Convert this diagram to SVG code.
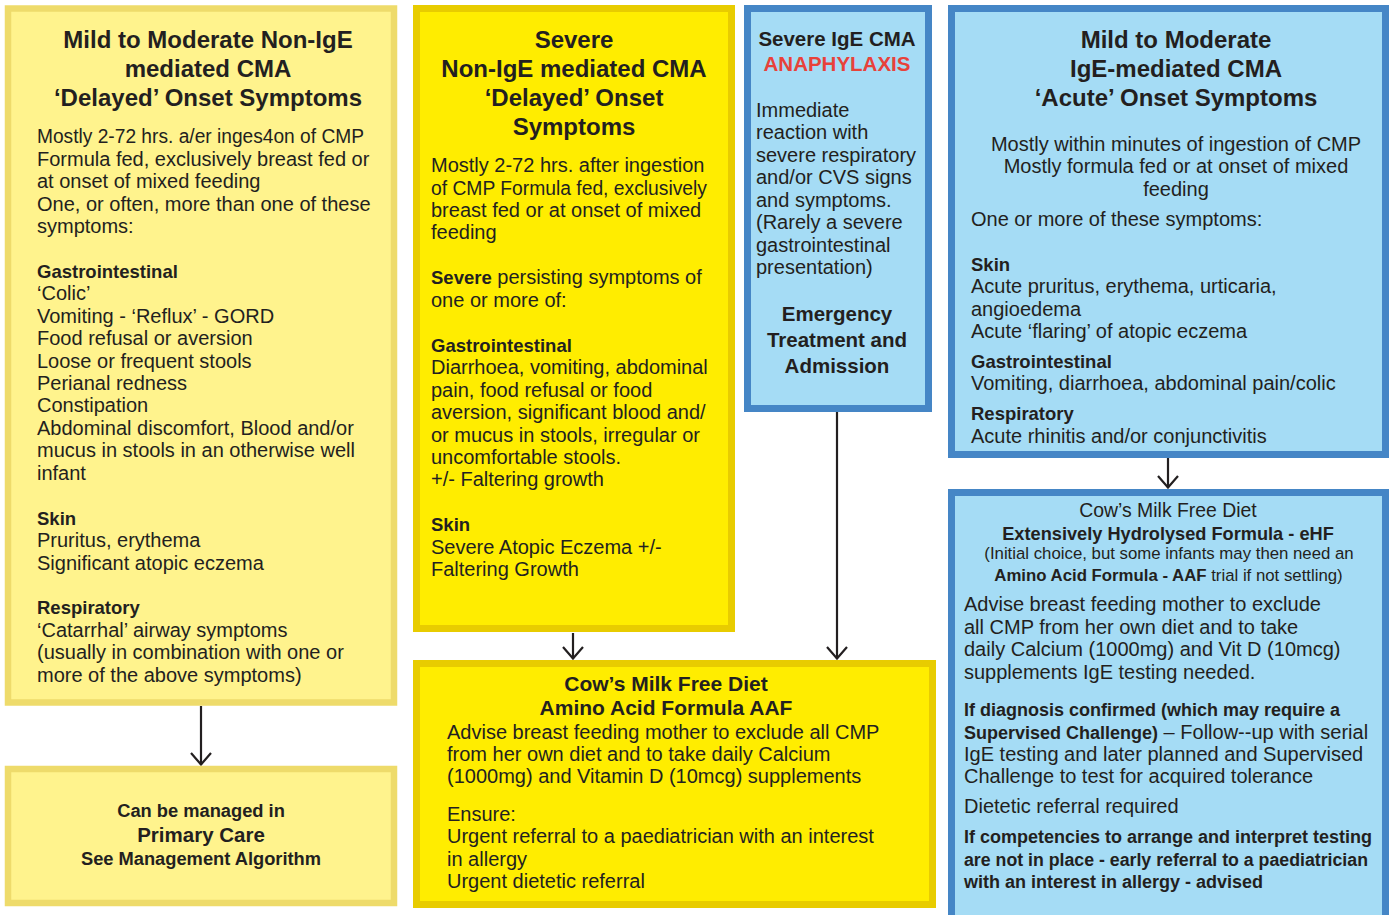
<svg xmlns="http://www.w3.org/2000/svg" width="1394" height="915" viewBox="0 0 1394 915">
<style>
text{font-family:"Liberation Sans",Arial,sans-serif;fill:#231F20}
.b{font-size:20px}
.bb{font-size:18.5px;font-weight:bold}
.b7{font-size:18px;font-weight:bold}
.h{font-size:24px;font-weight:bold;text-anchor:middle}
.h2{font-size:20.5px;font-weight:bold;text-anchor:middle}
.c{text-anchor:middle}
.s{font-size:16.8px}
.ly{fill:#FFF38D;stroke:#EEDB6B;stroke-width:6.5}
.by{fill:#FFED00;stroke:#E8CC00;stroke-width:7}
.bl{fill:#A5DCF5;stroke:#4586C6;stroke-width:7}
.con{stroke:#231F20;stroke-width:2.2;fill:none}
</style>
<defs>
<marker id="ah" viewBox="0 0 14 22" refX="13" refY="11" markerWidth="14" markerHeight="22" markerUnits="userSpaceOnUse" orient="auto">
<path d="M1,1 L12.5,11 L1,21" fill="none" stroke="#231F20" stroke-width="2.2"/>
</marker>
</defs>
<rect width="1394" height="915" fill="#FFFFFF"/>

<g id="connectors">
<line class="con" x1="201" y1="706" x2="201" y2="765" marker-end="url(#ah)"/>
<line class="con" x1="573" y1="633" x2="573" y2="659" marker-end="url(#ah)"/>
<line class="con" x1="837" y1="411" x2="837" y2="659" marker-end="url(#ah)"/>
<line class="con" x1="1168" y1="458" x2="1168" y2="488" marker-end="url(#ah)"/>
</g>

<g id="n1">
<rect class="ly" x="8" y="8.5" width="386" height="694"/>
<text class="h" x="208" y="48">Mild to Moderate Non-IgE</text>
<text class="h" x="208" y="77">mediated CMA</text>
<text class="h" x="208" y="106">‘Delayed’ Onset Symptoms</text>
<text class="b" x="37" y="143" textLength="327" lengthAdjust="spacingAndGlyphs">Mostly 2-72 hrs. a/er inges4on of CMP</text>
<text class="b" x="37" y="166">Formula fed, exclusively breast fed or</text>
<text class="b" x="37" y="188">at onset of mixed feeding</text>
<text class="b" x="37" y="211">One, or often, more than one of these</text>
<text class="b" x="37" y="233">symptoms:</text>
<text class="bb" x="37" y="278">Gastrointestinal</text>
<text class="b" x="37" y="300">‘Colic’</text>
<text class="b" x="37" y="323">Vomiting - ‘Reflux’ - GORD</text>
<text class="b" x="37" y="345">Food refusal or aversion</text>
<text class="b" x="37" y="368">Loose or frequent stools</text>
<text class="b" x="37" y="390">Perianal redness</text>
<text class="b" x="37" y="412">Constipation</text>
<text class="b" x="37" y="435">Abdominal discomfort, Blood and/or</text>
<text class="b" x="37" y="457">mucus in stools in an otherwise well</text>
<text class="b" x="37" y="480">infant</text>
<text class="bb" x="37" y="525">Skin</text>
<text class="b" x="37" y="547">Pruritus, erythema</text>
<text class="b" x="37" y="570">Significant atopic eczema</text>
<text class="bb" x="37" y="614">Respiratory</text>
<text class="b" x="37" y="637">‘Catarrhal’ airway symptoms</text>
<text class="b" x="37" y="659">(usually in combination with one or</text>
<text class="b" x="37" y="682">more of the above symptoms)</text>
</g>

<g id="n2">
<rect class="by" x="416.5" y="8.5" width="315" height="620"/>
<text class="h" x="574" y="48">Severe</text>
<text class="h" x="574" y="77">Non-IgE mediated CMA</text>
<text class="h" x="574" y="106">‘Delayed’ Onset</text>
<text class="h" x="574" y="135">Symptoms</text>
<text class="b" x="431" y="172">Mostly 2-72 hrs. after ingestion</text>
<text class="b" x="431" y="195" textLength="276" lengthAdjust="spacingAndGlyphs">of CMP Formula fed, exclusively</text>
<text class="b" x="431" y="217">breast fed or at onset of mixed</text>
<text class="b" x="431" y="239">feeding</text>
<text class="b" x="431" y="284"><tspan font-weight="bold" font-size="18.5">Severe</tspan> persisting symptoms of</text>
<text class="b" x="431" y="307">one or more of:</text>
<text class="bb" x="431" y="352">Gastrointestinal</text>
<text class="b" x="431" y="374">Diarrhoea, vomiting, abdominal</text>
<text class="b" x="431" y="397">pain, food refusal or food</text>
<text class="b" x="431" y="419">aversion, significant blood and/</text>
<text class="b" x="431" y="442">or mucus in stools, irregular or</text>
<text class="b" x="431" y="464">uncomfortable stools.</text>
<text class="b" x="431" y="486">+/- Faltering growth</text>
<text class="bb" x="431" y="531">Skin</text>
<text class="b" x="431" y="554">Severe Atopic Eczema +/-</text>
<text class="b" x="431" y="576">Faltering Growth</text>
</g>

<g id="n3">
<rect class="bl" x="747.5" y="8.5" width="181" height="400"/>
<text class="h2" x="837" y="46">Severe IgE CMA</text>
<text class="h2" x="837" y="71" style="fill:#E8423A">ANAPHYLAXIS</text>
<text class="b" x="756" y="117">Immediate</text>
<text class="b" x="756" y="139">reaction with</text>
<text class="b" x="756" y="162">severe respiratory</text>
<text class="b" x="756" y="184">and/or CVS signs</text>
<text class="b" x="756" y="207">and symptoms.</text>
<text class="b" x="756" y="229">(Rarely a severe</text>
<text class="b" x="756" y="252">gastrointestinal</text>
<text class="b" x="756" y="274">presentation)</text>
<text class="h2" x="837" y="321">Emergency</text>
<text class="h2" x="837" y="347">Treatment and</text>
<text class="h2" x="837" y="373">Admission</text>
</g>

<g id="n4">
<rect class="bl" x="951.5" y="8.5" width="434" height="446"/>
<text class="h" x="1176" y="48">Mild to Moderate</text>
<text class="h" x="1176" y="77">IgE-mediated CMA</text>
<text class="h" x="1176" y="106">‘Acute’ Onset Symptoms</text>
<text class="b c" x="1176" y="151">Mostly within minutes of ingestion of CMP</text>
<text class="b c" x="1176" y="173">Mostly formula fed or at onset of mixed</text>
<text class="b c" x="1176" y="196">feeding</text>
<text class="b" x="971" y="226">One or more of these symptoms:</text>
<text class="bb" x="971" y="271">Skin</text>
<text class="b" x="971" y="293">Acute pruritus, erythema, urticaria,</text>
<text class="b" x="971" y="316">angioedema</text>
<text class="b" x="971" y="338">Acute ‘flaring’ of atopic eczema</text>
<text class="bb" x="971" y="368">Gastrointestinal</text>
<text class="b" x="971" y="390">Vomiting, diarrhoea, abdominal pain/colic</text>
<text class="bb" x="971" y="420">Respiratory</text>
<text class="b" x="971" y="443">Acute rhinitis and/or conjunctivitis</text>
</g>

<g id="n5">
<rect class="ly" x="8" y="769" width="386" height="134"/>
<text class="c" x="201" y="817" style="font-size:18.3px;font-weight:bold">Can be managed in</text>
<text class="c" x="201" y="842" style="font-size:20.5px;font-weight:bold">Primary Care</text>
<text class="c" x="201" y="865" style="font-size:18.3px;font-weight:bold">See Management Algorithm</text>
</g>

<g id="n6">
<rect class="by" x="416.5" y="663.5" width="516" height="241"/>
<text class="c" x="666" y="691" style="font-size:21px;font-weight:bold">Cow’s Milk Free Diet</text>
<text class="c" x="666" y="715" style="font-size:21px;font-weight:bold">Amino Acid Formula AAF</text>
<text class="b" x="447" y="739">Advise breast feeding mother to exclude all CMP</text>
<text class="b" x="447" y="761">from her own diet and to take daily Calcium</text>
<text class="b" x="447" y="783">(1000mg) and Vitamin D (10mcg) supplements</text>
<text class="b" x="447" y="821">Ensure:</text>
<text class="b" x="447" y="843">Urgent referral to a paediatrician with an interest</text>
<text class="b" x="447" y="866">in allergy</text>
<text class="b" x="447" y="888">Urgent dietetic referral</text>
</g>

<g id="n7">
<rect class="bl" x="951.5" y="492.5" width="434" height="430"/>
<text class="c" x="1168" y="517" style="font-size:19.4px">Cow’s Milk Free Diet</text>
<text class="c" x="1168" y="540" style="font-size:18.2px;font-weight:bold">Extensively Hydrolysed Formula - eHF</text>
<text class="c s" x="1169" y="559">(Initial choice, but some infants may then need an</text>
<text class="c s" x="1168.5" y="581"><tspan font-weight="bold">Amino Acid Formula - AAF</tspan> trial if not settling)</text>
<text class="b" x="964" y="611">Advise breast feeding mother to exclude</text>
<text class="b" x="964" y="634">all CMP from her own diet and to take</text>
<text class="b" x="964" y="656">daily Calcium (1000mg) and Vit D (10mcg)</text>
<text class="b" x="964" y="679">supplements IgE testing needed.</text>
<text class="b7" x="964" y="716">If diagnosis confirmed (which may require a</text>
<text class="b" x="964" y="739"><tspan font-weight="bold" font-size="18">Supervised Challenge)</tspan> – Follow--up with serial</text>
<text class="b" x="964" y="761">IgE testing and later planned and Supervised</text>
<text class="b" x="964" y="783">Challenge to test for acquired tolerance</text>
<text class="b" x="964" y="813">Dietetic referral required</text>
<text class="b7" x="964" y="843">If competencies to arrange and interpret testing</text>
<text class="b7" x="964" y="866" textLength="404" lengthAdjust="spacingAndGlyphs">are not in place - early referral to a paediatrician</text>
<text class="b7" x="964" y="888">with an interest in allergy - advised</text>
</g>
</svg>
